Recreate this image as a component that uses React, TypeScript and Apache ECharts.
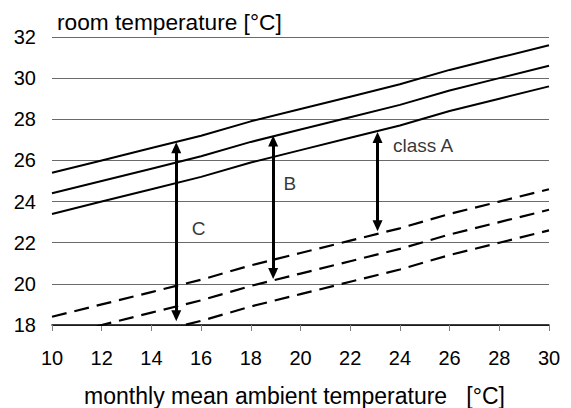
import React, { useEffect, useRef } from "react";
import * as echarts from "echarts";

// monthly mean ambient temperature [°C]
const ambient = [10, 12, 14, 16, 18, 20, 22, 24, 26, 28, 30];
// upper limits (solid)
const upperC = [25.4, 26.0, 26.6, 27.2, 27.9, 28.5, 29.1, 29.7, 30.4, 31.0, 31.6];
const upperB = [24.4, 25.0, 25.6, 26.2, 26.9, 27.5, 28.1, 28.7, 29.4, 30.0, 30.6];
const upperA = [23.4, 24.0, 24.6, 25.2, 25.9, 26.5, 27.1, 27.7, 28.4, 29.0, 29.6];
// lower limits (dashed)
const lowerA = [18.4, 19.0, 19.6, 20.2, 20.9, 21.5, 22.1, 22.7, 23.4, 24.0, 24.6];
const lowerB = [17.4, 18.0, 18.6, 19.2, 19.9, 20.5, 21.1, 21.7, 22.4, 23.0, 23.6];
const lowerC = [16.4, 17.0, 17.6, 18.2, 18.9, 19.5, 20.1, 20.7, 21.4, 22.0, 22.6];

// range arrows (arrow-head centres)
const arrowLabels = ["C", "B", "class A"];
const arrowX = [15, 18.9, 23.1];
const arrowTop = [26.62, 26.95, 27.12];
const arrowBottom = [18.45, 20.5, 22.82];
const labelX = [15.6, 19.3, 23.7];
const labelY = [22.7, 24.9, 26.75];

const xTicks = { min: 10, max: 30, interval: 2 };
const yTicks = { min: 18, max: 32, interval: 2 };

const FONT = "'Liberation Sans', Arial, sans-serif";

export default function App() {
  const ref = useRef<HTMLDivElement>(null);
  useEffect(() => {
    if (!ref.current) return;
    const chart = echarts.init(ref.current, null, { renderer: "svg" });
    const pairs = (ys: number[]) => ambient.map((x, i) => [x, ys[i]]);
    const solid = (name: string, ys: number[], extra: any = {}) => ({
      name,
      type: "line",
      data: pairs(ys),
      symbol: "none",
      silent: true,
      clip: true,
      lineStyle: { color: "#000", width: 2 },
      ...extra,
    });
    const dashed = (name: string, ys: number[]) => ({
      name,
      type: "line",
      data: pairs(ys),
      symbol: "none",
      silent: true,
      clip: true,
      lineStyle: { color: "#000", width: 2.2, type: [15, 8] },
    });
    chart.setOption({
      animation: false,
      textStyle: { fontFamily: FONT },
      title: {
        text: "room temperature [°C]",
        left: 57,
        top: 10,
        padding: 0,
        textStyle: { fontFamily: FONT, fontSize: 22.7, fontWeight: "normal", color: "#000" },
      },
      grid: { left: 52, right: 22, top: 37, bottom: 83, outerBoundsMode: "none", containLabel: false },
      xAxis: {
        type: "value",
        ...xTicks,
        name: "monthly mean ambient temperature   [°C]",
        nameLocation: "middle",
        nameGap: 59,
        nameTextStyle: { fontFamily: FONT, fontSize: 23, color: "#000", padding: [0, 12, 0, 0] },
        axisLine: { show: true, lineStyle: { color: "#000", width: 1.5 } },
        axisTick: { show: true, length: 6, lineStyle: { color: "#808080", width: 1 } },
        axisLabel: { fontFamily: FONT, fontSize: 20, color: "#000", margin: 23 },
        splitLine: { show: false },
      },
      yAxis: {
        type: "value",
        ...yTicks,
        axisLine: { show: false },
        axisTick: { show: false },
        axisLabel: { fontFamily: FONT, fontSize: 20, color: "#000", margin: 16, padding: [6, 0, 0, 0] },
        splitLine: { show: true, lineStyle: { color: "#6a6a6a", width: 1.2 } },
      },
      series: [
        solid("upper C", upperC, {
          markLine: {
            silent: true,
            symbol: ["triangle", "triangle"],
            symbolSize: [10, 11],
            label: { show: false },
            lineStyle: { color: "#000", width: 3, type: "solid" },
            data: arrowX.map((x, i) => [
              { coord: [x, arrowTop[i]] },
              { coord: [x, arrowBottom[i]] },
            ]),
          },
        }),
        solid("upper B", upperB),
        solid("upper A", upperA),
        dashed("lower A", lowerA),
        dashed("lower B", lowerB),
        dashed("lower C", lowerC),
        {
          name: "labels",
          type: "scatter",
          silent: true,
          symbolSize: 1,
          itemStyle: { color: "transparent" },
          data: labelX.map((x, i) => [x, labelY[i], arrowLabels[i]]),
          label: {
            show: true,
            position: "right",
            distance: 0,
            formatter: (p: any) => p.data[2],
            fontFamily: FONT,
            fontSize: 19,
            color: "#000",
          },
        },
      ],
    });
    return () => chart.dispose();
  }, []);
  return (
    <div
      ref={ref}
      style={{ position: "fixed", left: 0, top: 0, width: 571, height: 408, background: "#fff" }}
    />
  );
}
